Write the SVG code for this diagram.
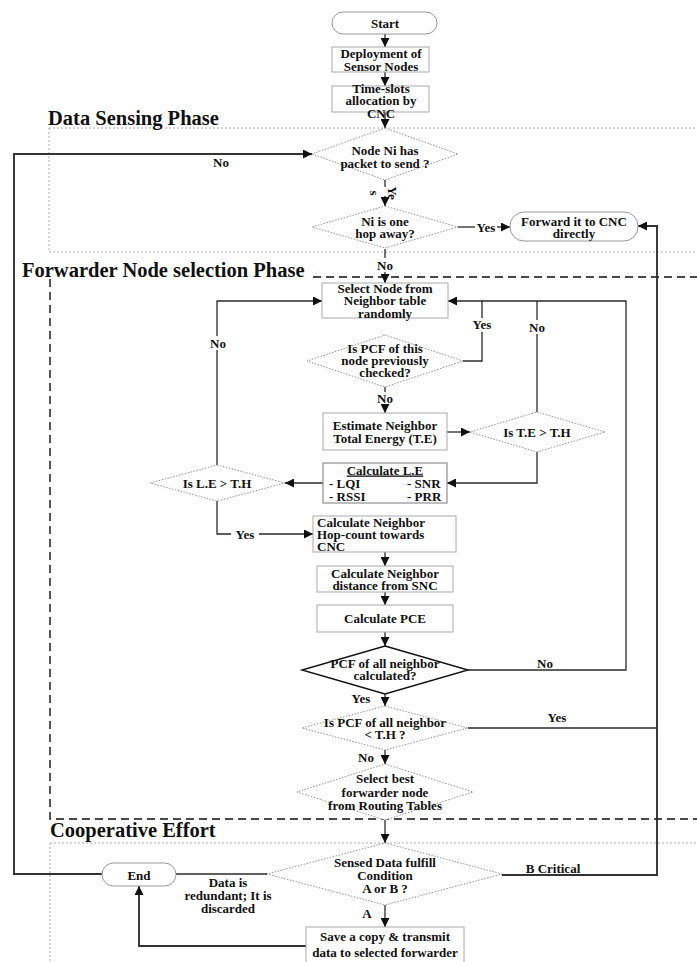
<svg xmlns="http://www.w3.org/2000/svg" width="697" height="962" viewBox="0 0 697 962">
<style>
.t{font-family:"Liberation Serif","Times New Roman",serif;font-weight:bold;font-size:13px;fill:#111;text-anchor:middle}
.l{text-anchor:start}
.ph{font-family:"Liberation Serif","Times New Roman",serif;font-weight:bold;font-size:20.5px;fill:#111}
.box{fill:#fff;stroke:#aaa;stroke-width:1}
.dia{fill:#fff;stroke:#8a8a8a;stroke-width:0.9;stroke-dasharray:1.5 1.5}
.term{fill:#fff;stroke:#999;stroke-width:1}
.ln{fill:none;stroke:#2a2a2a;stroke-width:1.3}
.lnb{fill:none;stroke:#333;stroke-width:1.9}
.arr{marker-end:url(#ah)}
.dot{fill:none;stroke:#999;stroke-width:0.8;stroke-dasharray:2 2}
.dash{fill:none;stroke:#111;stroke-width:1.4;stroke-dasharray:8 5}
.bg{fill:#fff}
</style>
<defs>
<marker id="ah" viewBox="0 0 10 10" refX="10" refY="5" markerWidth="9" markerHeight="9" markerUnits="userSpaceOnUse" orient="auto">
<path d="M0,0 L10,5 L0,10 z" fill="#111"/>
</marker>
</defs>
<rect width="697" height="962" fill="#fff"/>

<g id="phases">
<path class="dot" d="M49,128 H697 M49,128 V252 H697"/>
<text class="ph" x="48" y="125">Data Sensing Phase</text>
<path class="dash" d="M313,277 H697 M50,279 V819 H697"/>
<text class="ph" x="22" y="277">Forwarder Node selection Phase</text>
<path class="dot" d="M50,843 H697 M50,843 V962"/>
<text class="ph" x="50" y="837">Cooperative Effort</text>
</g>

<g id="connectors">
<path class="ln arr" d="M385,34 V47"/>
<path class="ln arr" d="M385,72 V86"/>
<path class="ln arr" d="M385,112 V128"/>
<path class="ln" d="M385,180 V187"/>
<path class="ln arr" d="M385,196 V206"/>
<path class="ln" d="M458,227 H475"/>
<path class="ln arr" d="M497,227 H510"/>
<path class="ln" d="M385,249 V258"/>
<path class="ln arr" d="M385,272 V283"/>
<path class="ln arr" d="M217,465 V301 H322"/>
<path class="ln arr" d="M463,361 H482 V301 H448"/>
<path class="ln" d="M537,412 V301"/>
<path class="ln" d="M468,670 H626 V301 H482"/>
<path class="ln" d="M385,387 V392"/>
<path class="ln arr" d="M385,405 V413"/>
<path class="ln arr" d="M447,432 H470"/>
<path class="ln arr" d="M537,452 V483 H447"/>
<path class="ln arr" d="M323,483 H285"/>
<path class="ln arr" d="M217,501 V534 H313"/>
<path class="ln arr" d="M385,552 V566"/>
<path class="ln arr" d="M385,592 V605"/>
<path class="ln arr" d="M385,632 V646"/>
<path class="ln arr" d="M385,694 V706"/>
<path class="ln" d="M468,728 H657"/>
<path class="ln arr" d="M385,750 V764"/>
<path class="ln arr" d="M385,820 V843"/>
<path class="lnb arr" d="M502,875 H657 V226 H638"/>
<path class="ln" d="M267,874 H176"/>
<path class="lnb arr" d="M102,874 H14 V154 H312"/>
<path class="ln arr" d="M385,905 V927"/>
<path class="lnb arr" d="M306,946 H139 V886"/>
<rect class="bg" x="203" y="336" width="28" height="14"/>
<rect class="bg" x="468" y="318" width="28" height="14"/>
<rect class="bg" x="525" y="320" width="24" height="14"/>
<rect class="bg" x="231" y="528" width="28" height="13"/>
<g class="t">
<text x="221" y="166.5">No</text>
<text x="486" y="231.5">Yes</text>
<text x="385" y="269.5">No</text>
<text x="218" y="347.5">No</text>
<text x="482" y="328.5">Yes</text>
<text x="537" y="331.5">No</text>
<text x="385" y="402.5">No</text>
<text x="245" y="538.5">Yes</text>
<text x="545" y="667.5">No</text>
<text x="361" y="702.5">Yes</text>
<text x="557" y="721.5">Yes</text>
<text x="366" y="761.5">No</text>
<text x="553" y="872.5">B Critical</text>
<text x="228" y="886.5">Data is</text>
<text x="228" y="899.5">redundant; It is</text>
<text x="228" y="912.5">discarded</text>
<text x="367" y="917.5">A</text>
<text transform="translate(388,193) rotate(90)">Ye</text>
<text transform="translate(370,193) rotate(90)">s</text>
</g>
</g>

<g id="start"><rect class="term" x="332" y="12" width="105" height="22" rx="11"/><text class="t" x="385" y="27.5">Start</text></g>
<g id="deploy"><rect class="box" x="332" y="47" width="97" height="25"/><text class="t" x="381" y="57.5">Deployment of</text><text class="t" x="381" y="70.5">Sensor Nodes</text></g>
<g id="timeslots"><rect class="box" x="332" y="86" width="97" height="26"/><text class="t" x="381" y="92.5">Time-slots</text><text class="t" x="381" y="104.5">allocation by</text><text class="t" x="381" y="117.5">CNC</text></g>
<g id="d-packet"><polygon class="dia" points="385,128 458,154 385,180 312,154"/><text class="t" x="385" y="154.5">Node Ni has</text><text class="t" x="385" y="167.5">packet to send ?</text></g>
<g id="d-onehop"><polygon class="dia" points="385,206 458,227 385,248 312,227"/><text class="t" x="385" y="225.5">Ni is one</text><text class="t" x="385" y="237.5">hop away?</text></g>
<g id="forward"><rect class="term" x="510" y="212" width="128" height="29" rx="14"/><text class="t" x="574" y="225.5">Forward it to CNC</text><text class="t" x="574" y="237.5">directly</text></g>
<g id="select"><rect class="box" x="322" y="283" width="126" height="35"/><text class="t" x="385" y="292.5">Select Node from</text><text class="t" x="385" y="305">Neighbor table</text><text class="t" x="385" y="317.5">randomly</text></g>
<g id="d-checked"><polygon class="dia" points="385,335 463,361 385,387 307,361"/><text class="t" x="385" y="352.5">Is PCF of this</text><text class="t" x="385" y="364.5">node previously</text><text class="t" x="385" y="376.5">checked?</text></g>
<g id="estimate"><rect class="box" x="323" y="413" width="124" height="37"/><text class="t" x="385" y="429.5">Estimate Neighbor</text><text class="t" x="385" y="442.5">Total Energy (T.E)</text></g>
<g id="d-te"><polygon class="dia" points="537,412 605,432 537,452 470,432"/><text class="t" x="537" y="436.5">Is T.E &gt; T.H</text></g>
<g id="calcle"><rect class="box" x="323" y="463" width="124" height="40" style="stroke:#999;stroke-width:1.3"/><text class="t" x="385" y="474.5" text-decoration="underline">Calculate L.E</text><text class="t l" x="329" y="487.5">- LQI</text><text class="t l" x="407" y="487.5">- SNR</text><text class="t l" x="329" y="500.5">- RSSI</text><text class="t l" x="407" y="500.5">- PRR</text></g>
<g id="d-le"><polygon class="dia" points="217,465 285,483 217,501 150,483"/><text class="t" x="217" y="487.5">Is L.E &gt; T.H</text></g>
<g id="hopcount"><rect class="box" x="313" y="516" width="143" height="36"/><text class="t l" x="317" y="526.5">Calculate Neighbor</text><text class="t l" x="317" y="538.5">Hop-count towards</text><text class="t l" x="317" y="551">CNC</text></g>
<g id="distance"><rect class="box" x="317" y="566" width="136" height="26"/><text class="t" x="385" y="577.5">Calculate Neighbor</text><text class="t" x="385" y="589.5">distance from SNC</text></g>
<g id="pce"><rect class="box" x="317" y="605" width="136" height="27"/><text class="t" x="385" y="622.5">Calculate PCE</text></g>
<g id="d-allcalc"><polygon points="385,646 468,670 385,694 302,670" fill="#fff" stroke="#111" stroke-width="1.4"/><text class="t" x="385" y="667.5">PCF of all neighbor</text><text class="t" x="385" y="679.5">calculated?</text></g>
<g id="d-th"><polygon class="dia" points="385,706 468,728 385,750 302,728"/><text class="t" x="385" y="726.5">Is PCF of all neighbor</text><text class="t" x="385" y="739">&lt; T.H ?</text></g>
<g id="d-best"><polygon class="dia" points="385,764 473,792 385,820 297,792"/><text class="t" x="385" y="782.5">Select best</text><text class="t" x="385" y="796.5">forwarder node</text><text class="t" x="385" y="809.5">from Routing Tables</text></g>
<g id="d-cond"><polygon class="dia" points="385,843 502,874 385,905 267,874"/><text class="t" x="385" y="866.5">Sensed Data fulfill</text><text class="t" x="385" y="879.5">Condition</text><text class="t" x="385" y="892.5">A or B ?</text></g>
<g id="end"><rect class="term" x="102" y="863" width="74" height="23" rx="11.5"/><text class="t" x="139" y="879.5">End</text></g>
<g id="save"><rect class="box" x="306" y="927" width="158" height="40"/><text class="t" x="385" y="940.5">Save a copy &amp; transmit</text><text class="t" x="385" y="956.5">data to selected forwarder</text></g>
</svg>
